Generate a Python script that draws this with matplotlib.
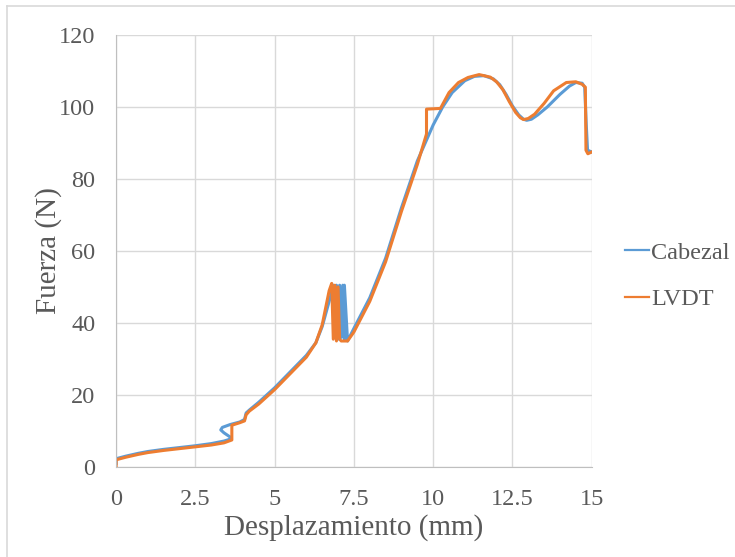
import matplotlib.pyplot as plt
import numpy as np

# Cabezal (blue)
cab_x = [0.0, 0.0, 0.3, 0.7, 1.0, 1.5, 2.0, 2.5, 3.0, 3.4, 3.62, 3.6, 3.4, 3.3, 3.35, 3.6, 3.9, 4.05, 4.1, 4.2,
         4.5, 5.0, 5.5, 6.0, 6.3, 6.5, 6.75, 6.85, 6.9, 6.95, 7.0, 7.05, 7.1, 7.15, 7.2, 7.2, 7.3,
         7.5, 8.0, 8.5, 9.0, 9.5, 10.0, 10.3, 10.6, 11.0, 11.3, 11.6, 11.9, 12.1, 12.3, 12.5, 12.7, 12.85,
         12.95, 13.1, 13.3, 13.6, 14.0, 14.3, 14.5, 14.7, 14.78, 14.83, 14.87, 15.0]
cab_y = [1.0, 2.3, 3.0, 3.8, 4.3, 4.9, 5.4, 5.9, 6.5, 7.2, 7.8, 8.3, 9.5, 10.3, 11.0, 11.8, 12.5, 13.2, 15.0, 15.8,
         18.0, 22.0, 26.5, 31.0, 34.5, 39.0, 47.0, 50.5, 36.0, 50.5, 35.5, 50.5, 36.0, 50.5, 35.5, 50.5, 35.0,
         38.5, 47.0, 58.0, 72.0, 85.0, 95.0, 100.0, 104.0, 107.3, 108.5, 108.7, 107.8, 106.2, 103.5, 100.3, 97.8, 96.6,
         96.3, 96.6, 97.8, 100.0, 103.5, 105.8, 106.8, 106.6, 105.5, 95.0, 88.0, 87.5]

# LVDT (orange)
lvdt_x = [0.0, 0.0, 0.3, 0.7, 1.0, 1.5, 2.0, 2.5, 3.0, 3.4, 3.65, 3.65, 3.9, 4.05, 4.1, 4.2,
          4.5, 5.0, 5.5, 6.0, 6.3, 6.5, 6.72, 6.8, 6.85, 6.9, 6.95, 7.0, 7.05, 7.1, 7.3,
          7.5, 8.0, 8.5, 9.0, 9.5, 9.79, 9.79, 10.23, 10.5, 10.8, 11.1, 11.45, 11.8, 12.0, 12.2, 12.4, 12.6, 12.75,
          12.85, 13.0, 13.2, 13.5, 13.8, 14.2, 14.5, 14.7, 14.8, 14.82, 14.88, 15.0]
lvdt_y = [0.3, 2.0, 2.7, 3.5, 4.0, 4.6, 5.1, 5.6, 6.1, 6.7, 7.5, 11.6, 12.3, 12.8, 14.5, 15.5,
          17.5, 21.5, 26.0, 30.5, 34.5, 39.5, 49.0, 51.0, 35.5, 50.5, 35.0, 50.0, 35.5, 35.0, 35.0,
          37.5, 46.0, 57.0, 71.0, 84.0, 92.5, 99.4, 99.6, 104.0, 106.8, 108.2, 109.0, 108.3, 107.0, 104.8, 101.5, 98.5, 97.0,
          96.5, 96.8, 98.0, 101.0, 104.5, 106.8, 107.0, 106.3, 105.5, 88.0, 87.0, 87.5]

fig = plt.figure(figsize=(7.35, 5.57), dpi=100)
ax = fig.add_axes([0.158, 0.1616, 0.647, 0.7756])

ax.plot(cab_x, cab_y, color='#5B9BD5', linewidth=2.2, label='Cabezal')
ax.plot(lvdt_x, lvdt_y, color='#ED7D31', linewidth=2.2, label='LVDT')

ax.set_xlim(0, 15)
ax.set_ylim(0, 120)
ax.set_xticks([0, 2.5, 5, 7.5, 10, 12.5, 15])
ax.set_xticklabels(['0', '2.5', '5', '7.5', '10', '12.5', '15'])
ax.set_yticks(np.arange(0, 121, 20))
ax.grid(True, color='#D9D9D9', linewidth=1)
ax.set_axisbelow(True)
for s in ['top', 'right']:
    ax.spines[s].set_visible(False)
for s in ['left', 'bottom']:
    ax.spines[s].set_color('#BFBFBF')
ax.tick_params(length=0, labelsize=17.5, labelcolor='#595959')
ax.tick_params(axis='y', pad=15)
ax.tick_params(axis='x', pad=16)
for lab in ax.get_xticklabels() + ax.get_yticklabels():
    lab.set_fontfamily('Liberation Serif')

ax.set_xlabel('Desplazamiento (mm)', fontsize=21, family='Liberation Serif', color='#595959')
ax.set_ylabel('Fuerza (N)', fontsize=21, family='Liberation Serif', color='#595959')
ax.xaxis.set_label_coords(0.5, -0.108)
ax.yaxis.set_label_coords(-0.113, 0.5)

leg = ax.legend(loc='center left', bbox_to_anchor=(1.025, 0.442), frameon=False,
                prop={'family': 'Liberation Serif', 'size': 17.5}, handlelength=0.95,
                handletextpad=0.1, labelspacing=1.0)
for t in leg.get_texts():
    t.set_color('#595959')
for ln in leg.get_lines():
    ln.set_linewidth(1.6)

# light frame on the top and left edges
fig.add_artist(plt.Line2D([7 / 735, 7 / 735], [0, 1 - 6 / 557], transform=fig.transFigure,
                          color='#D9D9D9', linewidth=1.2))
fig.add_artist(plt.Line2D([7 / 735, 1], [1 - 6 / 557, 1 - 6 / 557], transform=fig.transFigure,
                          color='#D9D9D9', linewidth=1.2))

fig.savefig('out.png', dpi=100)
